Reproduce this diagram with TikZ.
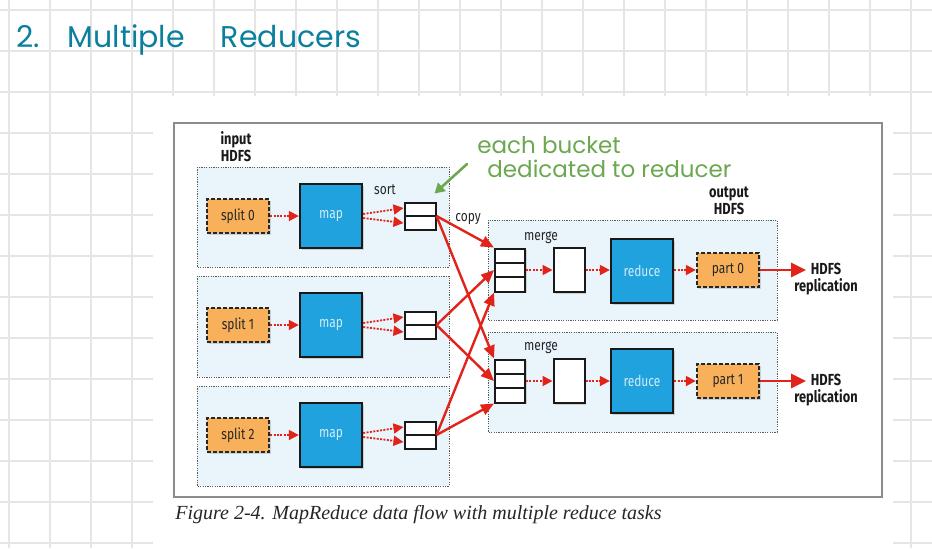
\documentclass[tikz,border=0pt]{standalone}
\usepackage{fontspec}
\newfontfamily\diagfont[FakeStretch=0.8]{Fira Sans}
\newfontfamily\handfont{Poppins}
\newfontfamily\capfont{Liberation Serif}
\usepackage{xcolor}
\usetikzlibrary{arrows.meta, positioning, shadows, calc}

\definecolor{linered}{HTML}{E2231A}
\definecolor{mapblue}{HTML}{1FA2DE}
\definecolor{partorange}{HTML}{F8B15A}
\definecolor{panelblue}{HTML}{E9F5FA}
\definecolor{titleteal}{HTML}{0B7F9E}
\definecolor{notegreen}{HTML}{6BA850}

\begin{document}
\begin{tikzpicture}
  [x=0.5pt, y=-0.5pt,
  gridline/.style={draw=black!10, line width=0.6pt},
  panel/.style={draw=black!65, fill=panelblue, line width=0.5pt, dash pattern=on 0.6pt off 0.6pt},
  boxshadow/.style={drop shadow={shadow xshift=0.8pt, shadow yshift=-0.8pt, opacity=0.3}},
  lbl/.style={font=\diagfont\fontsize{7.5}{9}\selectfont, text=black!85},
  hdfslbl/.style={font=\diagfont\bfseries\fontsize{8}{8.5}\selectfont, align=center, text=black!90},
  splitbox/.style={lbl, fill=partorange, draw=black!85, line width=1.2pt, dash pattern=on 2pt off 1pt,
    minimum width=31pt, minimum height=17pt, inner sep=0pt, boxshadow},
  taskbox/.style={lbl, text=white!80!mapblue, fill=mapblue, draw=black!90, line width=1.2pt,
    minimum width=31pt, minimum height=32pt, inner sep=0pt, boxshadow},
  bucket/.style={draw=black!90, fill=white, line width=1pt, minimum width=15.5pt, minimum height=13.5pt,
    inner sep=0pt, boxshadow,
    path picture={\draw[line width=1pt] (path picture bounding box.west) -- (path picture bounding box.east);}},
  mergebucket/.style={draw=black!90, fill=white, line width=1pt, minimum width=15pt, minimum height=21.5pt,
    inner sep=0pt, boxshadow,
    path picture={
      \draw[line width=1pt] ($(path picture bounding box.north west)!1/3!(path picture bounding box.south west)$)
        -- ($(path picture bounding box.north east)!1/3!(path picture bounding box.south east)$);
      \draw[line width=1pt] ($(path picture bounding box.north west)!2/3!(path picture bounding box.south west)$)
        -- ($(path picture bounding box.north east)!2/3!(path picture bounding box.south east)$);}},
  sortedbox/.style={draw=black!90, fill=white, line width=1pt, minimum width=15.5pt, minimum height=22pt,
    inner sep=0pt, boxshadow},
  dotarrow/.style={draw=linered, line width=0.9pt, dash pattern=on 1pt off 0.7pt, -{Triangle[length=5pt,width=5pt]}},
  copyarrow/.style={draw=linered, line width=1.2pt, -{Triangle[length=6.5pt,width=5.5pt]}},
  replarrow/.style={draw=linered, line width=1.4pt, -{Triangle[length=7.5pt,width=7pt]}},
  notearrow/.style={draw=notegreen, line width=1.3pt, line cap=round, -{Triangle[length=5pt,width=5.5pt]}}]

\useasboundingbox (0,0) rectangle (932,548);

% Squared paper with the pasted page on top
\foreach \gx in {9,50,...,911} \draw[gridline] (\gx,0) -- (\gx,548);
\foreach \gy in {10,51,...,543} \draw[gridline] (0,\gy) -- (932,\gy);
\fill[white] (153,96) rectangle (893,548);
\draw[black!45, line width=0.6pt] (174,123) rectangle (882,497);

% Title
\node[anchor=base west, inner sep=0pt, text=titleteal, font=\handfont\fontsize{15}{18}\selectfont] (title) at (16,47)
  {2.\hspace{14pt}Multiple\hspace{18pt}Reducers};

% Input side: one dotted panel per map task
\draw[panel] (197,167) rectangle (449,267);
\draw[panel] (197,276) rectangle (449,377);
\draw[panel] (197,386) rectangle (449,486);
\node[hdfslbl] (inlbl) at (236,147) {input\\HDFS};

\node[splitbox] (split0) at (238,216) {split 0};
\node[taskbox] (map0) at (331,216) {map};
\node[bucket] (bkt0) at (420,216) {};
\node[lbl] (sortlbl) at (385,190) {sort};

\node[splitbox] (split1) at (238,325) {split 1};
\node[taskbox] (map1) at (331,325) {map};
\node[bucket] (bkt1) at (420,325) {};

\node[splitbox] (split2) at (238,435) {split 2};
\node[taskbox] (map2) at (331,435) {map};
\node[bucket] (bkt2) at (420,435) {};

\node[lbl] (copylbl) at (468,219) {copy};

% Output side: one dotted panel per reduce task
\draw[panel] (488,220) rectangle (777,320);
\draw[panel] (488,332) rectangle (777,432);
\node[hdfslbl] (outlbl) at (729,201) {output\\HDFS};

\node[lbl] (mergeA) at (541,238) {merge};
\node[mergebucket] (mrgA) at (510,270) {};
\node[sortedbox] (midA) at (569,270) {};
\node[taskbox] (redA) at (642,271) {reduce};
\node[splitbox] (partA) at (728,270) {part 0};
\coordinate (outA) at (806,270);
\node[hdfslbl] (replA) at (826,279) {HDFS\\replication};

\node[lbl] (mergeB) at (541,348) {merge};
\node[mergebucket] (mrgB) at (510,381) {};
\node[sortedbox] (midB) at (569,381) {};
\node[taskbox] (redB) at (642,381) {reduce};
\node[splitbox] (partB) at (728,381) {part 1};
\coordinate (outB) at (806,381);
\node[hdfslbl] (replB) at (826,390) {HDFS\\replication};

% Map side arrows
\draw[dotarrow] (split0) -- (map0);
\draw[dotarrow] ([yshift=1pt]map0.east) -- ([yshift=4pt]bkt0.west);
\draw[dotarrow] ([yshift=-1pt]map0.east) -- ([yshift=-3.5pt]bkt0.west);
\draw[dotarrow] (split1) -- (map1);
\draw[dotarrow] ([yshift=1pt]map1.east) -- ([yshift=4pt]bkt1.west);
\draw[dotarrow] ([yshift=-1pt]map1.east) -- ([yshift=-3.5pt]bkt1.west);
\draw[dotarrow] (split2) -- (map2);
\draw[dotarrow] ([yshift=1pt]map2.east) -- ([yshift=4pt]bkt2.west);
\draw[dotarrow] ([yshift=-1pt]map2.east) -- ([yshift=-3.5pt]bkt2.west);

% Copy (shuffle) arrows
\draw[copyarrow] (bkt0.east) -- (mrgA.north west);
\draw[copyarrow] (bkt0.east) -- (mrgB.north west);
\draw[copyarrow] (bkt1.east) -- (mrgA.west);
\draw[copyarrow] (bkt1.east) -- (mrgB.west);
\draw[copyarrow] (bkt2.east) -- (mrgA.south west);
\draw[copyarrow] (bkt2.east) -- (mrgB.south west);

% Reduce side arrows
\draw[dotarrow] (mrgA) -- (midA);
\draw[dotarrow] (midA) -- (redA.west |- midA);
\draw[dotarrow] (redA.east |- partA) -- (partA);
\draw[replarrow] (partA) -- (outA);
\draw[dotarrow] (mrgB) -- (midB);
\draw[dotarrow] (midB) -- (redB);
\draw[dotarrow] (redB) -- (partB);
\draw[replarrow] (partB) -- (outB);

% Handwritten note
\node[anchor=base west, inner sep=0pt, align=left, text=notegreen, font=\handfont\fontsize{11.5}{12}\selectfont] (note) at (477,177)
  {each bucket\\\hspace*{5pt}dedicated to reducer};
\coordinate (hint) at (467,164);
\draw[notearrow] (hint) -- ([shift={(-1pt,4pt)}]bkt0.north east);

% Caption
\node[anchor=base west, inner sep=0pt, font=\capfont\itshape\fontsize{10}{12}\selectfont, text=black!85] (caption) at (175,519)
  {Figure 2-4. MapReduce data flow with multiple reduce tasks};

\end{tikzpicture}
\end{document}
